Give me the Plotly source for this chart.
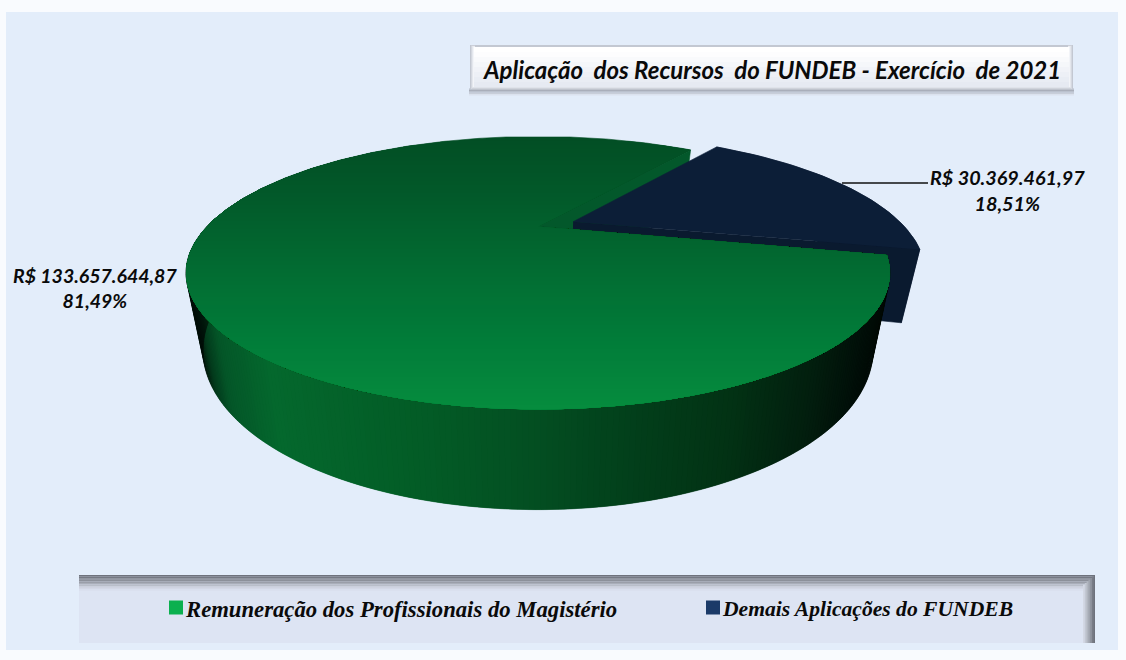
import numpy as np
import plotly.graph_objects as go

categories = ["Remuneração dos Profissionais do Magistério", "Demais Aplicações do FUNDEB"]
values = [133657644.87, 30369461.97]
value_labels = ["R$ 133.657.644,87<br>81,49%", "R$ 30.369.461,97<br>18,51%"]
title_text = "Aplicação  dos Recursos  do FUNDEB - Exercício  de 2021"
legend_colors = ["#0bb04f", "#1b3a68"]

W, H = 1126, 660
START_DEG = 36.0           # first slice boundary, clockwise from the back
EXPLODE = 0.115
CX, K = 538.0, 0.34
TOP = dict(a=331.0, b=120.7, y0=226.5)
BOT = dict(a=315.0, b=141.0, y0=296.0)

share = np.array(values) / sum(values)
navy_sweep = share[1] * 360
navy_a = np.radians(np.linspace(START_DEG, START_DEG + navy_sweep, 40))
green_a = np.radians(np.linspace(START_DEG + navy_sweep, START_DEG + 360, 420))
mid = np.radians(START_DEG + navy_sweep / 2)
ex, ey = EXPLODE * np.sin(mid), -EXPLODE * np.cos(mid)


def proj(u, v, d):
    den = 1 - K * v
    return CX + d["a"] * u / den, d["y0"] + d["b"] * v / den


def rim(a, d, r=1.0, ox=0.0, oy=0.0):
    return proj(r * np.sin(a) + ox, -r * np.cos(a) + oy, d)


fig = go.Figure()


def poly(x, y, color, line=0.6):
    fig.add_trace(go.Scatter(
        x=list(x), y=list(y), mode="lines", fill="toself", fillcolor=color,
        line=dict(color=color, width=line), hoverinfo="skip", showlegend=False))


def mix(stops, t):
    ts = [s[0] for s in stops]
    c = [np.interp(t, ts, [s[1][i] for s in stops]) for i in range(3)]
    return "rgb(%d,%d,%d)" % tuple(int(round(x)) for x in c)


def clip_below(px, py, yc):
    """Keep the part of a polygon below the screen line y = yc."""
    ox, oy = [], []
    n = len(px)
    for i in range(n):
        x1, y1, x2, y2 = px[i], py[i], px[(i + 1) % n], py[(i + 1) % n]
        if y1 >= yc:
            ox.append(x1); oy.append(y1)
        if (y1 >= yc) != (y2 >= yc):
            t = (yc - y1) / (y2 - y1)
            ox.append(x1 + t * (x2 - x1)); oy.append(yc)
    return ox, oy


# green cut face seen behind the navy slice
ax, ay = proj(0, 0, TOP)
bx, by = proj(0, 0, BOT)
a0 = np.radians(START_DEG)
rx, ry = rim(a0, TOP)
qx, qy = rim(a0, BOT)
poly([ax, rx, qx, bx], [ay, ry, qy, by], "#03582b")

# navy slice: bottom, wall, cut face, top
NAVY = "#0c1e37"
NAVY_SIDE = "#0b1a30"
x1, y1 = rim(navy_a, TOP, ox=ex, oy=ey)
x2, y2 = rim(navy_a, BOT, ox=ex, oy=ey)
poly(list(x1) + list(x2[::-1]), list(y1) + list(y2[::-1]), NAVY_SIDE)
nax, nay = proj(ex, ey, TOP)
nbx, nby = proj(ex, ey, BOT)
poly([nax, x1[-1], x2[-1], nbx], [nay, y1[-1], y2[-1], nby], "#0a1a2f")
poly([nax] + list(x1), [nay] + list(y1), NAVY)

# green wall: only the half that faces the viewer
wall_stops = [(203, (1, 14, 8)), (209, (2, 34, 16)), (216, (3, 58, 28)), (232, (4, 86, 40)),
              (280, (4, 104, 45)), (420, (3, 92, 38)), (520, (3, 80, 34)),
              (620, (2, 64, 27)), (720, (2, 50, 20)), (800, (2, 30, 14)),
              (850, (1, 14, 8)), (875, (0, 8, 4))]
gx1, gy1 = rim(green_a, TOP)
gx2, gy2 = rim(green_a, BOT)
for i in range(len(green_a) - 2):
    if np.cos(green_a[i]) > 0.05 and np.cos(green_a[i + 2]) > 0.05:
        continue
    xs = list(gx1[i:i + 3]) + list(gx2[i:i + 3][::-1])
    ys = list(gy1[i:i + 3]) + list(gy2[i:i + 3][::-1])
    poly(xs, ys, mix(wall_stops, float(np.mean(gx2[i:i + 3]))), line=0.3)

# green top, painter's bands from back to front
top_stops = [(137, (2, 78, 36)), (200, (2, 90, 42)), (270, (2, 108, 50)),
             (340, (1, 124, 57)), (412, (6, 141, 62))]
sx = [ax] + list(gx1)
sy = [ay] + list(gy1)
for yc in np.arange(137, 412, 4.0):
    cx_, cy_ = clip_below(sx, sy, yc)
    if len(cx_) > 2:
        poly(cx_, cy_, mix(top_stops, yc + 2), line=0 if yc > 137 else 0.6)

# legend swatches
fig.add_trace(go.Scatter(
    x=[176, 713], y=[607.5, 607.5], mode="markers",
    marker=dict(symbol="square", size=14, color=legend_colors, line=dict(width=0)),
    hoverinfo="skip", showlegend=False))

# leader line
fig.add_trace(go.Scatter(x=[842, 928], y=[183, 183], mode="lines",
                         line=dict(color="#111111", width=1.5), hoverinfo="skip", showlegend=False))

shapes = []


def rect(x0, y0, x1_, y1_, color, layer="below"):
    shapes.append(dict(type="rect", x0=x0, y0=y0, x1=x1_, y1=y1_, xref="x", yref="y",
                       fillcolor=color, line=dict(width=0), layer=layer))


rect(6, 12, 1118, 650, "#e3edfa")

# title plate: soft shadow, then bevels, then a white to pale face
for i, c in enumerate(["#dbe2ee", "#c8ced9", "#b4bac6", "#a9aeba", "#b6bbc6"]):
    rect(469, 94 - i * 1.4, 1074, 95.4 - i * 1.4, c)
rect(470, 45, 1073, 88, "#c3c8d2")
for i, c in enumerate(["#c3c8d2", "#d4d8e0", "#e4e7ed", "#f2f4f8"]):
    rect(470 + i, 45 + i / 2, 475, 89, c)
    rect(1068, 45 + i / 2, 1073 - i, 89, c)
face = ["#ffffff", "#fdfdfe", "#f9fafc", "#f5f7fa", "#f1f3f8", "#edf0f6", "#e9edf4", "#e6eaf2"]
for i, c in enumerate(face):
    rect(474, 47 + i * 5, 1069, 52 + i * 5, c)
for i, c in enumerate(["#dfe3ea", "#cfd3db", "#bfc4cd"]):
    rect(472, 87 + i, 1071, 88 + i, c)

# legend plate with shaded top and right edges
rect(79, 575, 1095, 643, "#dde4f3")
for i, c in enumerate(["#6e727c", "#757983", "#80848e", "#8c909a", "#9a9ea9", "#a9aeb9",
                       "#b9bec9", "#c8cdd9", "#d3d8e6", "#dae0ef"]):
    rect(79, 575 + i * 1.6, 1095, 576.6 + i * 1.6, c)
for i, c in enumerate(["#d3d8e4", "#c3c8d3", "#b2b7c1", "#a0a5af", "#8d919b", "#787c86", "#6e727c"]):
    rect(1083 + i * 1.8, 575 + (6 - i) * 1.6, 1095, 643, c)

anns = []


def text(x, y, t, size, family, anchor="center", align="center"):
    anns.append(dict(x=x, y=y, xref="x", yref="y", text=t, showarrow=False, xanchor=anchor,
                     yanchor="middle", align=align,
                     font=dict(family=family, size=size, color="#0a0a0a", weight="bold", style="italic")))


text(772, 69, title_text, 24, "Lato")
text(94.5, 287.5, value_labels[0], 19.5, "Lato")
text(1007, 189.5, value_labels[1], 19.8, "Lato")
text(183, 609, categories[0], 22.7, "Liberation Serif", anchor="left")
text(720, 609, categories[1], 21.6, "Liberation Serif", anchor="left")

fig.update_layout(
    width=W, height=H, margin=dict(l=0, r=0, t=0, b=0),
    paper_bgcolor="#f9fbfe", plot_bgcolor="rgba(0,0,0,0)",
    xaxis=dict(range=[0, W], visible=False, fixedrange=True),
    yaxis=dict(range=[H, 0], visible=False, fixedrange=True),
    shapes=shapes, annotations=anns, showlegend=False,
)

fig.write_html("out.html", post_script="document.body.style.margin='0';document.body.style.overflow='hidden';",
               config={"displayModeBar": False})
